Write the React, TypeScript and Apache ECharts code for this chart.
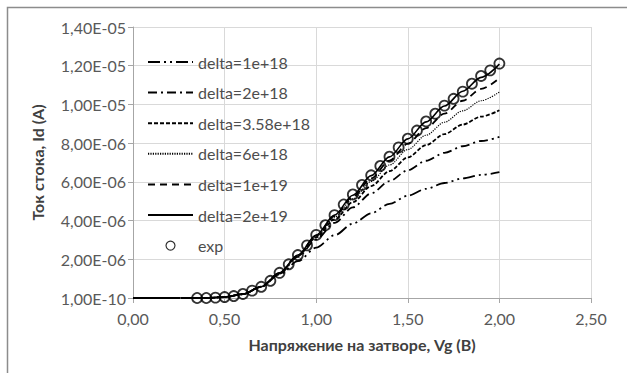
import React, { useEffect, useRef } from "react";
import * as echarts from "echarts";

// Gate voltage grid of the model curves (V)
const vgModel = [0, 0.1, 0.2, 0.3, 0.4, 0.5, 0.6, 0.7, 0.8, 0.9, 1.0, 1.1, 1.2, 1.3, 1.4, 1.5, 1.6, 1.7, 1.8, 1.9, 2.0];
// Model drain current, in units of 1e-6 A
const delta1e18 = [0, 0, 0, 0, 0, 0.05, 0.2, 0.58, 1.22, 1.9, 2.6, 3.24, 3.84, 4.38, 4.86, 5.28, 5.64, 5.94, 6.18, 6.36, 6.5];
const delta2e18 = [0, 0, 0, 0, 0, 0.05, 0.2, 0.58, 1.26, 2.12, 3.02, 3.88, 4.68, 5.4, 6.04, 6.6, 7.09, 7.5, 7.84, 8.11, 8.32];
const delta358e18 = [0, 0, 0, 0, 0, 0.05, 0.2, 0.58, 1.28, 2.18, 3.13, 4.06, 4.95, 5.78, 6.55, 7.26, 7.9, 8.47, 8.96, 9.37, 9.7];
const delta6e18 = [0, 0, 0, 0, 0, 0.05, 0.2, 0.58, 1.29, 2.2, 3.2, 4.18, 5.12, 6.02, 6.87, 7.67, 8.41, 9.08, 9.67, 10.19, 10.64];
const delta1e19 = [0, 0, 0, 0, 0, 0.05, 0.2, 0.58, 1.3, 2.21, 3.22, 4.23, 5.22, 6.18, 7.1, 7.97, 8.78, 9.52, 10.19, 10.8, 11.36];
const delta2e19 = [0, 0, 0, 0, 0, 0.05, 0.2, 0.58, 1.3, 2.22, 3.25, 4.28, 5.31, 6.32, 7.29, 8.22, 9.1, 9.92, 10.68, 11.4, 12.08];

// Experimental points
const vgExp = [0.35, 0.4, 0.45, 0.5, 0.55, 0.6, 0.65, 0.7, 0.75, 0.8, 0.85, 0.9, 0.95, 1.0, 1.05, 1.1, 1.15, 1.2, 1.25, 1.3, 1.35, 1.4, 1.45, 1.5, 1.55, 1.6, 1.65, 1.7, 1.75, 1.8, 1.85, 1.9, 1.95, 2.0];
const idExp = [0, 0, 0.02, 0.05, 0.1, 0.21, 0.38, 0.58, 0.89, 1.3, 1.74, 2.22, 2.72, 3.26, 3.76, 4.28, 4.83, 5.35, 5.84, 6.34, 6.82, 7.3, 7.78, 8.23, 8.65, 9.12, 9.52, 9.94, 10.29, 10.66, 11.07, 11.47, 11.76, 12.11];

const seriesNames = ["delta=1e+18", "delta=2e+18", "delta=3.58e+18", "delta=6e+18", "delta=1e+19", "delta=2e+19", "exp"];

const FONT = "Lato, 'Open Sans', sans-serif";
const TEXT = "#595959";

function yFmt(v: number): string {
  if (Math.abs(v) < 1e-12) return "1,00E-10";
  const [m, e] = v.toExponential(2).split("e");
  const n = parseInt(e, 10);
  const sign = n < 0 ? "-" : "+";
  const ex = String(Math.abs(n)).padStart(2, "0");
  return m.replace(".", ",") + "E" + sign + ex;
}

export default function App() {
  const ref = useRef<HTMLDivElement>(null);
  useEffect(() => {
    if (!ref.current) return;
    const chart = echarts.init(ref.current, null, { renderer: "svg" });
    const pair = (xs: number[], ys: number[]) => xs.map((x, i) => [x, ys[i] * 1e-6]);
    const models = [
      { name: seriesNames[0], data: delta1e18, type: [12, 4, 2, 4, 2, 4], width: 1.8 },
      { name: seriesNames[1], data: delta2e18, type: [9, 4, 2, 4], width: 1.8 },
      { name: seriesNames[2], data: delta358e18, type: [4, 2], width: 1.8 },
      { name: seriesNames[3], data: delta6e18, type: [1.2, 1.2], width: 1.2 },
      { name: seriesNames[4], data: delta1e19, type: [7, 5], width: 1.8 },
      { name: seriesNames[5], data: delta2e19, type: "solid", width: 1.6 },
    ];
    const series: any[] = models.map((m) => ({
      name: m.name,
      type: "line",
      data: pair(vgModel, m.data),
      symbol: "none",
      smooth: 0.3,
      smoothMonotone: "x",
      lineStyle: { color: "#000", width: m.width, type: m.type },
      itemStyle: { color: "#000" },
      z: 2,
    }));
    series.push({
      name: "exp",
      type: "scatter",
      data: pair(vgExp, idExp),
      symbol: "circle",
      symbolSize: 10,
      itemStyle: { color: "rgba(0,0,0,0)", borderColor: "#000", borderWidth: 1.8 },
      z: 3,
    });
    const legendData = seriesNames.map((n) =>
      n === "exp"
        ? { name: n, itemStyle: { borderWidth: 1.2 } }
        : { name: n, itemStyle: { opacity: 0 } }
    );
    chart.setOption({
      animation: false,
      backgroundColor: "#fff",
      textStyle: { fontFamily: FONT },
      grid: { left: 133, right: 36, top: 27, bottom: 75, outerBoundsMode: "none" },
      graphic: [
        {
          type: "rect",
          shape: { x: 7.5, y: 7.5, width: 700, height: 500 },
          style: { fill: "none", stroke: "#8c8c8c", lineWidth: 1.5 },
          silent: true,
        },
      ],
      legend: {
        orient: "vertical",
        left: 142,
        top: 49,
        itemWidth: 45,
        itemHeight: 9,
        itemGap: 14.6,
        data: legendData,
        textStyle: { fontFamily: FONT, fontSize: 16, color: "#4d4d4d" },
      },
      xAxis: {
        type: "value",
        min: 0,
        max: 2.5,
        interval: 0.5,
        name: "Напряжение на затворе, Vg (В)",
        nameLocation: "middle",
        nameGap: 38,
        nameTextStyle: { fontFamily: FONT, fontSize: 16, fontWeight: "bold", color: "#404040" },
        axisLine: { show: true, lineStyle: { color: "#a6a6a6", width: 1 } },
        axisTick: { show: true, length: 5, lineStyle: { color: "#a6a6a6" } },
        axisLabel: { fontFamily: FONT, fontSize: 16, color: TEXT, margin: 12, formatter: (v: number) => v.toFixed(2).replace(".", ",") },
        splitLine: { show: true, lineStyle: { color: "#d9d9d9", width: 1 } },
      },
      yAxis: {
        type: "value",
        min: 0,
        max: 1.4e-5,
        interval: 2e-6,
        name: "Ток стока, Id (A)",
        nameLocation: "middle",
        nameGap: 88,
        nameTextStyle: { fontFamily: FONT, fontSize: 16, fontWeight: "bold", color: "#404040" },
        axisLine: { show: true, lineStyle: { color: "#a6a6a6", width: 1 } },
        axisTick: { show: true, length: 5, lineStyle: { color: "#a6a6a6" } },
        axisLabel: { fontFamily: FONT, fontSize: 16, color: TEXT, margin: 7, formatter: yFmt },
        splitLine: { show: true, lineStyle: { color: "#d9d9d9", width: 1 } },
      },
      series,
    });
    return () => chart.dispose();
  }, []);
  return <div ref={ref} style={{ position: "fixed", left: 0, top: 0, width: 627, height: 373 }} />;
}
